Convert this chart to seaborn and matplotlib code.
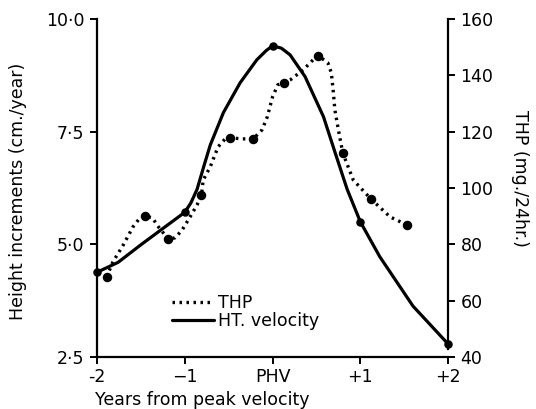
import pandas as pd
import matplotlib
matplotlib.use("Agg")
import matplotlib.pyplot as plt
import seaborn as sns

# HT velocity (cm./year)
ht_x = [-2.0, -1.76, -1.5, -1.0, -0.93, -0.86, -0.78, -0.71, -0.56, -0.37, -0.18, -0.07, 0.0, 0.1,
        0.2, 0.37, 0.58, 0.72, 0.85, 1.0, 1.22, 1.6, 2.0]
ht_y = [4.38, 4.6, 4.99, 5.71, 5.92, 6.22, 6.75, 7.2, 7.92, 8.58, 9.09, 9.3, 9.4, 9.35,
        9.2, 8.72, 7.83, 6.99, 6.22, 5.5, 4.73, 3.63, 2.79]
ht_pts_x = [-2, -1, 0, 1, 2]
ht_pts_y = [4.38, 5.71, 9.4, 5.5, 2.79]

# THP (mg./24hr.)
thp_x = [-1.89, -1.82, -1.70, -1.59, -1.51, -1.45, -1.37, -1.30, -1.19, -1.11, -1.03,
         -0.94, -0.86, -0.81, -0.79, -0.71, -0.62, -0.54, -0.48, -0.35, -0.22, -0.12,
         -0.06, 0.0, 0.06, 0.13, 0.20, 0.35, 0.46, 0.52, 0.63, 0.67, 0.69, 0.71, 0.75,
         0.80, 0.92, 1.12, 1.34, 1.53]
thp_y = [68.4, 73.7, 79.8, 86.2, 89.4, 90.0, 89.4, 86.2, 81.9, 82.3, 85.1,
         89.7, 94.0, 97.5, 102.8, 107.5, 114.6, 117.4, 117.8, 117.4, 117.4, 120.6,
         125.2, 132.3, 136.6, 137.3, 138.3, 141.9, 145.4, 146.9, 144.4, 140.8, 134.8, 127.7, 120.6,
         112.4, 102.8, 96.1, 89.7, 86.9]
thp_pts_x = [-1.89, -1.45, -1.19, -0.81, -0.48, -0.22, 0.13, 0.52, 0.80, 1.12, 1.53]
thp_pts_y = [68.4, 90.0, 81.9, 97.5, 117.8, 117.4, 137.3, 146.9, 112.4, 96.1, 86.9]

x_ticks = [-2, -1, 0, 1, 2]
x_labels = ["-2", "\u22121", "PHV", "+1", "+2"]
left_ticks = [2.5, 5.0, 7.5, 10.0]
left_labels = ["2\u00b75", "5\u00b70", "7\u00b75", "10\u00b70"]
right_ticks = [40, 60, 80, 100, 120, 140, 160]

sns.set_theme(style="white")
plt.rcParams["font.family"] = ["DejaVu Sans"]
fs = 12.5

ht = pd.DataFrame({"x": ht_x, "y": ht_y})
thp = pd.DataFrame({"x": thp_x, "y": thp_y})

fig = plt.figure(figsize=(5.36, 4.09), dpi=100)
ax = fig.add_axes([0.181, 0.127, 0.655, 0.827])
ax2 = ax.twinx()

sns.lineplot(data=ht, x="x", y="y", ax=ax, color="black", linewidth=2.3,
             sort=False, estimator=None, label="HT. velocity", legend=False)
ax.scatter(ht_pts_x, ht_pts_y, s=26, color="black", zorder=5, clip_on=False)

sns.lineplot(data=thp, x="x", y="y", ax=ax2, color="black", linewidth=2.4,
             sort=False, estimator=None, label="THP", legend=False)
ax2.lines[0].set_linestyle((0, (0.75, 1.35)))
ax2.scatter(thp_pts_x, thp_pts_y, s=34, color="black", zorder=5, clip_on=False)

ax.set_xlim(-2, 2)
ax.set_ylim(2.5, 10)
ax2.set_ylim(40, 160)

ax.set_xticks(x_ticks)
ax.set_xticklabels(x_labels)
ax.set_yticks(left_ticks)
ax.set_yticklabels(left_labels)
ax2.set_yticks(right_ticks)
ax2.set_yticklabels([str(t) for t in right_ticks])

for a in (ax, ax2):
    for s in a.spines.values():
        s.set_linewidth(1.6)
        s.set_color("black")
    a.spines["top"].set_visible(False)
    a.tick_params(colors="black", labelsize=fs, width=1.4, length=5)
ax.spines["right"].set_visible(False)
ax2.spines["left"].set_visible(False)
ax2.spines["bottom"].set_visible(False)
ax2.spines["right"].set_bounds(43, 160)
ax.tick_params(axis="x", direction="out", bottom=True, pad=3)
ax.tick_params(axis="y", direction="out", left=True, pad=4)
ax2.tick_params(axis="y", direction="out", right=True, pad=4)

ax.set_xlabel("Years from peak velocity", fontsize=fs, color="black", ha="left", va="center")
ax.xaxis.set_label_coords(-0.006, -0.127)
ax.set_ylabel("Height increments (cm./year)", fontsize=fs, color="black", va="center")
ax.yaxis.set_label_coords(-0.225, 0.49)
ax2.set_ylabel("THP (mg./24hr.)", fontsize=fs, color="black", rotation=-90, va="center")
ax2.yaxis.set_label_coords(1.205, 0.527)

handles = [ax2.lines[0], ax.lines[0]]
ax.legend(handles, ["THP", "HT. velocity"], loc="lower left", bbox_to_anchor=(0.195, 0.06),
          frameon=False, fontsize=fs, handlelength=2.4, handletextpad=0.25,
          labelspacing=0.0, borderaxespad=0, labelcolor="black")

plt.savefig("out.png", dpi=100)
